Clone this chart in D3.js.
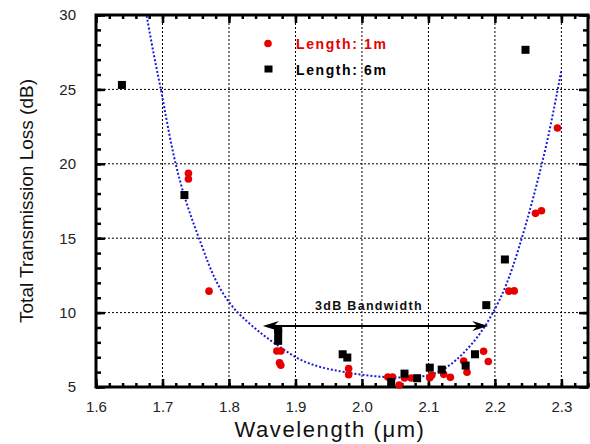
<!DOCTYPE html>
<html><head><meta charset="utf-8">
<script src="https://cdn.jsdelivr.net/npm/d3@7/dist/d3.min.js"></script>
<style>body{margin:0;background:#fff}svg{display:block;font-family:Arial,"Liberation Sans",sans-serif}</style>
</head><body><svg id="c" width="590" height="444"></svg>
<script>
// ---- data ----
const len1mX = [1.739,1.739,1.770,1.872,1.878,1.876,1.878,1.980,1.980,2.039,2.046,2.056,2.064,2.074,2.102,2.105,2.123,2.133,2.153,2.158,2.183,2.190,2.221,2.229,2.261,2.270,2.294];
const len1mY = [19.36,18.98,11.44,7.42,7.42,6.62,6.46,6.24,5.83,5.67,5.67,5.13,5.60,5.60,5.63,5.79,5.85,5.65,6.75,5.99,7.40,6.71,11.44,11.46,16.67,16.84,22.41];
const len6mX = [1.639,1.733,1.874,1.874,1.874,1.971,1.978,2.044,2.064,2.083,2.102,2.120,2.156,2.170,2.187,2.215,2.246];
const len6mY = [25.30,17.90,8.90,8.60,8.10,7.20,6.98,5.34,5.90,5.59,6.30,6.17,6.44,7.20,10.50,13.57,27.66];
const fitX = [1.672,1.688,1.698,1.715,1.735,1.760,1.776,1.801,1.827,1.851,1.877,1.902,1.927,1.952,2.000,2.050,2.100,2.127,2.152,2.177,2.197,2.217,2.237,2.257,2.280,2.300];
const fitY = [31.0,27.0,25.0,20.7,17.34,14.42,12.4,10.5,9.4,8.48,7.69,6.91,6.46,6.17,5.79,5.6,5.67,6.24,7.2,8.48,9.94,11.73,14.42,17.56,21.6,26.3];
const xTicks = [1.6,1.7,1.8,1.9,2.0,2.1,2.2,2.3];
const yTicks = [5,10,15,20,25,30];
const bwArrowX = [1.851, 2.190];
const bwArrowY = 9.1;
const legendLabels = ["Length: 1m","Length: 6m"];

// ---- chart ----
const svg = d3.select("#c");
const L=96, R=588, T=15, B=387;
const x = d3.scaleLinear().domain([1.6,2.34]).range([L,R]);
const y = d3.scaleLinear().domain([5,30]).range([B,T]);
const red = "#e60000";

// grid
const g = svg.append("g");
g.selectAll(".gx").data(xTicks.filter(v=>v>1.6)).join("line")
  .attr("x1",d=>x(d)).attr("x2",d=>x(d)).attr("y1",T).attr("y2",B)
  .attr("stroke","#000").attr("stroke-width",1).attr("stroke-dasharray","2,2");
g.selectAll(".gy").data(yTicks.filter(v=>v>5&&v<30)).join("line")
  .attr("y1",d=>y(d)).attr("y2",d=>y(d)).attr("x1",L).attr("x2",R)
  .attr("stroke","#000").attr("stroke-width",1).attr("stroke-dasharray","2,2");

// axes with inward ticks
const xMinor = d3.range(1.6,2.3401,0.02).map(v=>+v.toFixed(2));
const yMinor = d3.range(5,30.01,1);
const axB = svg.append("g").attr("transform",`translate(0,${B})`)
  .call(d3.axisBottom(x).tickValues(xMinor).tickSize(-4).tickFormat(""));
const axB2 = svg.append("g").attr("transform",`translate(0,${B})`)
  .call(d3.axisBottom(x).tickValues(xTicks).tickSize(-8).tickPadding(14).tickFormat(d3.format(".1f")));
const axT = svg.append("g").attr("transform",`translate(0,${T})`)
  .call(d3.axisTop(x).tickValues(xMinor).tickSize(-4).tickFormat(""));
const axT2 = svg.append("g").attr("transform",`translate(0,${T})`)
  .call(d3.axisTop(x).tickValues(xTicks).tickSize(-8).tickFormat(""));
const axL = svg.append("g").attr("transform",`translate(${L},0)`)
  .call(d3.axisLeft(y).tickValues(yMinor).tickSize(-5).tickFormat(""));
const axL2 = svg.append("g").attr("transform",`translate(${L},0)`)
  .call(d3.axisLeft(y).tickValues(yTicks).tickSize(-9).tickPadding(20).tickFormat(d3.format("d")));
const axR = svg.append("g").attr("transform",`translate(${R},0)`)
  .call(d3.axisRight(y).tickValues(yMinor).tickSize(-5).tickFormat(""));
const axR2 = svg.append("g").attr("transform",`translate(${R},0)`)
  .call(d3.axisRight(y).tickValues(yTicks).tickSize(-9).tickFormat(""));
[axB,axB2,axT,axT2,axL,axL2,axR,axR2].forEach(a=>{
  a.select(".domain").remove();
  a.selectAll(".tick line").attr("stroke","#000").attr("stroke-width",2.5);
  a.selectAll(".tick text").attr("fill","#222").style("font-size","15px").style("font-family","Arial, 'Liberation Sans', sans-serif");
});
svg.append("rect").attr("x",L).attr("y",T).attr("width",R-L).attr("height",B-T)
  .attr("fill","none").attr("stroke","#000").attr("stroke-width",3);

// fit curve
svg.append("clipPath").attr("id","pc").append("rect").attr("x",L).attr("y",T).attr("width",R-L).attr("height",B-T);
svg.append("path").datum(fitX.map((v,i)=>[v,fitY[i]]))
  .attr("clip-path","url(#pc)")
  .attr("d",d3.line().x(d=>x(d[0])).y(d=>y(d[1])).curve(d3.curveBasis))
  .attr("fill","none").attr("stroke","#1a1adc").attr("stroke-width",2).attr("stroke-dasharray","2,2");

// points
svg.append("g").selectAll("circle").data(len1mX.map((v,i)=>[v,len1mY[i]])).join("circle")
  .attr("cx",d=>x(d[0])).attr("cy",d=>y(d[1])).attr("r",3.8).attr("fill",red);
svg.append("g").selectAll("rect").data(len6mX.map((v,i)=>[v,len6mY[i]])).join("rect")
  .attr("x",d=>x(d[0])-4).attr("y",d=>y(d[1])-4).attr("width",8).attr("height",8).attr("fill","#000");

// legend
svg.append("circle").attr("cx",268).attr("cy",43.5).attr("r",3.8).attr("fill",red);
svg.append("rect").attr("x",264.5).attr("y",65.5).attr("width",8).attr("height",7).attr("fill","#000");
svg.append("text").attr("x",296).attr("y",48.5).text(legendLabels[0])
  .attr("fill",red).style("font-weight","bold").style("font-size","14px").style("letter-spacing","1.6px");
svg.append("text").attr("x",296).attr("y",74.5).text(legendLabels[1])
  .attr("fill","#000").style("font-weight","bold").style("font-size","14px").style("letter-spacing","1.6px");

// bandwidth arrow
const ay = y(bwArrowY), ax1 = x(bwArrowX[0]), ax2 = x(bwArrowX[1]);
svg.append("line").attr("x1",ax1+4).attr("x2",ax2-4).attr("y1",ay).attr("y2",ay).attr("stroke","#000").attr("stroke-width",2);
svg.append("path").attr("d",`M${ax1},${ay} L${ax1+16},${ay-5} L${ax1+11},${ay} L${ax1+16},${ay+5} Z`).attr("fill","#000");
svg.append("path").attr("d",`M${ax2},${ay} L${ax2-16},${ay-5} L${ax2-11},${ay} L${ax2-16},${ay+5} Z`).attr("fill","#000");
svg.append("text").attr("x",369).attr("y",309.5).attr("text-anchor","middle").text("3dB Bandwidth")
  .style("font-weight","bold").style("font-size","12.5px").style("letter-spacing","1.3px").attr("fill","#111");

// axis titles
svg.append("text").attr("x",330).attr("y",437).attr("text-anchor","middle").text("Wavelength (μm)")
  .style("font-size","22px").style("letter-spacing","1.6px").attr("fill","#111");
svg.append("text").attr("transform","translate(33,201) rotate(-90)").attr("text-anchor","middle")
  .text("Total Transmission Loss (dB)").style("font-size","19px").attr("fill","#111");
</script></body></html>
